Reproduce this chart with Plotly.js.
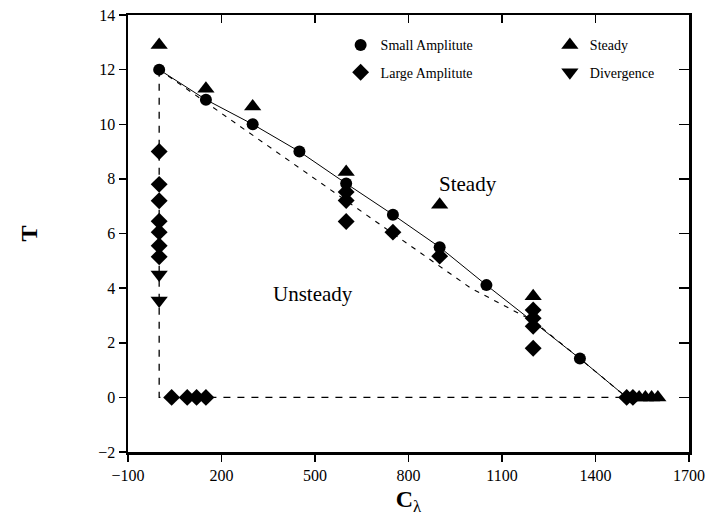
<!DOCTYPE html>
<html>
<head>
<meta charset="utf-8">
<script src="https://cdn.plot.ly/plotly-3.0.1.min.js"></script>
<style>html,body{margin:0;padding:0;background:#fff;}#chart{width:725px;height:523px;}</style>
</head>
<body>
<div id="chart"></div>
<script>
// Small amplitude (circles)
const smallX = [0, 150, 300, 450, 600, 750, 900, 1050, 1350];
const smallY = [12.0, 10.9, 10.0, 9.0, 7.83, 6.69, 5.5, 4.11, 1.42];
// Large amplitude (diamonds)
const largeX = [0, 0, 0, 0, 0, 0, 0, 40, 90, 120, 150, 600, 600, 600, 750, 900, 1200, 1200, 1200, 1200, 1500, 1520];
const largeY = [9.0, 7.8, 7.2, 6.45, 6.05, 5.55, 5.15, 0, 0, 0, 0, 7.52, 7.21, 6.44, 6.05, 5.17, 3.2, 2.9, 2.6, 1.8, 0, 0];
// Steady (triangle up)
const steadyX = [0, 150, 300, 600, 900, 1200, 1540, 1560, 1580, 1600];
const steadyY = [12.9, 11.3, 10.65, 8.25, 7.05, 3.7, 0, 0, 0, 0];
// Divergence (triangle down)
const divX = [0, 0];
const divY = [4.5, 3.55];
// Solid boundary line
const solidX = [0, 150, 300, 450, 600, 750, 900, 1050, 1350, 1500];
const solidY = [12.0, 10.9, 10.0, 9.0, 7.83, 6.69, 5.5, 4.11, 1.42, 0];
// Dashed boundary lines
const dashX = [0, 1000, 1200, 1350, 1500];
const dashY = [12.0, 4.0, 2.8, 1.42, 0];
const dashBoxX = [0, 0, 1500];
const dashBoxY = [12.0, 0, 0];
// Ticks
const xTicks = [-100, 200, 500, 800, 1100, 1400, 1700];
const yTicks = [-2, 0, 2, 4, 6, 8, 10, 12, 14];

const serif = "Liberation Serif, Times New Roman, serif";

const traces = [
  {x: dashBoxX, y: dashBoxY, mode: 'lines', line: {color: '#000', width: 1.3, dash: '7px,7px'}, showlegend: false, hoverinfo: 'skip'},
  {x: dashX, y: dashY, mode: 'lines', line: {color: '#000', width: 1.1, dash: '5px,6px'}, showlegend: false, hoverinfo: 'skip'},
  {x: solidX, y: solidY, mode: 'lines', line: {color: '#000', width: 1}, showlegend: false, hoverinfo: 'skip'},
  {x: smallX, y: smallY, mode: 'markers', name: 'Small Amplitute', legend: 'legend', legendgroup: 'a',
   marker: {symbol: 'circle', size: 12, color: '#000'}},
  {x: largeX, y: largeY, mode: 'markers', name: 'Large Amplitute', legend: 'legend', legendgroup: 'b',
   marker: {symbol: 'diamond', size: 13, color: '#000'}},
  {x: steadyX, y: steadyY, mode: 'markers', name: 'Steady', legend: 'legend2', legendgroup: 'c',
   marker: {symbol: 'triangle-up', size: 15, color: '#000'}},
  {x: divX, y: divY, mode: 'markers', name: 'Divergence', legend: 'legend2', legendgroup: 'd',
   marker: {symbol: 'triangle-down', size: 15, color: '#000'}},
  {x: [], y: [], xaxis: 'x2', yaxis: 'y2', showlegend: false, hoverinfo: 'skip', mode: 'markers'}
];

const axisBase = {
  showgrid: false, zeroline: false, showline: true, linecolor: '#000', linewidth: 2.5,
  tickcolor: '#000', tickwidth: 1.5, tickmode: 'array',
  tickfont: {family: serif, size: 16, color: '#000'}
};

const layout = {
  width: 725, height: 523,
  margin: {l: 128, r: 36, t: 15, b: 71},
  paper_bgcolor: '#fff', plot_bgcolor: '#fff',
  showlegend: true,
  xaxis: Object.assign({}, axisBase, {
    range: [-100, 1700], tickvals: xTicks, ticks: 'outside', ticklen: 7,
    title: {text: '<b>C</b><sub>λ</sub>', font: {family: serif, size: 24, color: '#000'}, standoff: 8}
  }),
  yaxis: Object.assign({}, axisBase, {
    range: [-2, 14], tickvals: yTicks, ticks: 'outside', ticklen: 7,
    title: {text: '<b>T</b>', font: {family: serif, size: 24, color: '#000'}, standoff: 54}
  }),
  xaxis2: Object.assign({}, axisBase, {
    overlaying: 'x', side: 'top', anchor: 'y2', range: [-100, 1700], tickvals: xTicks,
    ticks: 'inside', ticklen: 8, showticklabels: false
  }),
  yaxis2: Object.assign({}, axisBase, {
    overlaying: 'y', side: 'right', anchor: 'x2', range: [-2, 14], tickvals: yTicks,
    ticks: 'inside', ticklen: 10, showticklabels: false
  }),
  legend: {x: 0.379, y: 0.967, xanchor: 'left', yanchor: 'top', bgcolor: 'rgba(0,0,0,0)',
    font: {family: serif, size: 14, color: '#000'}, tracegroupgap: 6, traceorder: 'grouped'},
  legend2: {x: 0.752, y: 0.967, xanchor: 'left', yanchor: 'top', bgcolor: 'rgba(0,0,0,0)',
    font: {family: serif, size: 14, color: '#000'}, tracegroupgap: 6, traceorder: 'grouped'},
  annotations: [
    {x: 991, y: 7.8, xref: 'x', yref: 'y', text: 'Steady', showarrow: false,
     font: {family: serif, size: 21, color: '#000'}},
    {x: 494, y: 3.8, xref: 'x', yref: 'y', text: 'Unsteady', showarrow: false,
     font: {family: serif, size: 21, color: '#000'}}
  ]
};

Plotly.newPlot('chart', traces, layout, {displayModeBar: false, staticPlot: true});
</script>
</body>
</html>
